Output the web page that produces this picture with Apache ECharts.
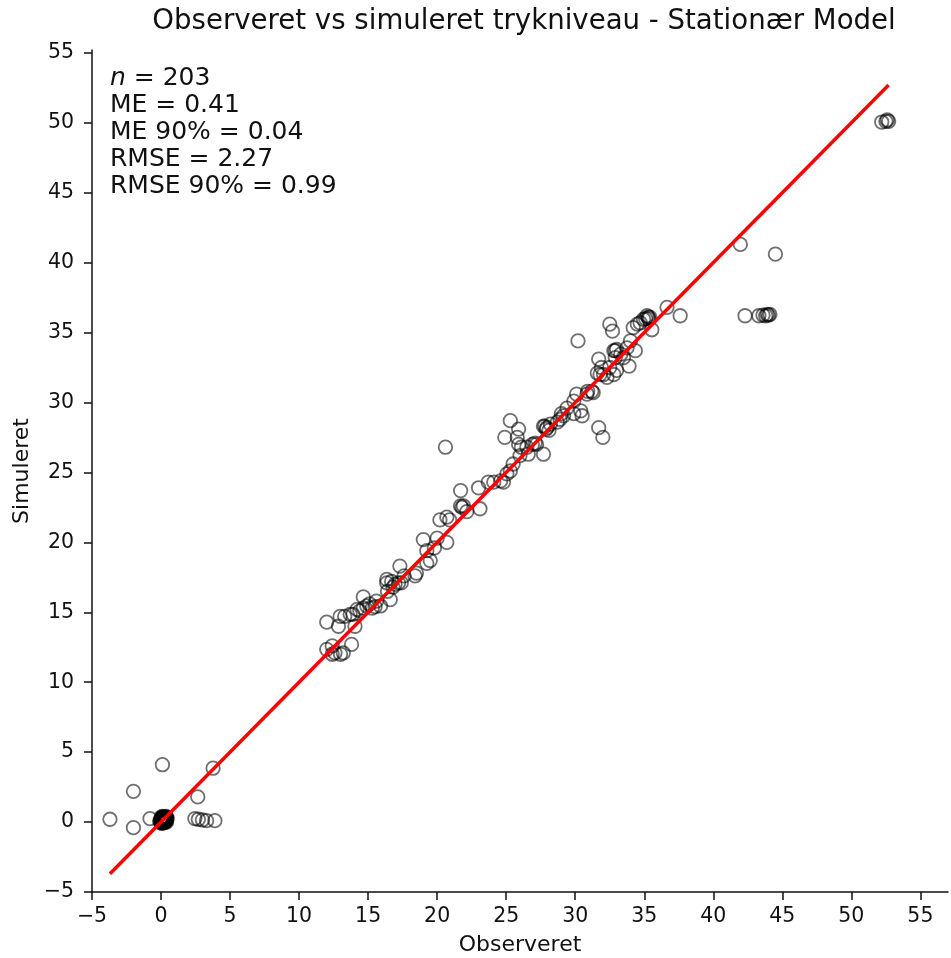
<!DOCTYPE html>
<html>
<head>
<meta charset="utf-8">
<script src="https://cdn.jsdelivr.net/npm/echarts@6/dist/echarts.min.js"></script>
<style>html,body{margin:0;padding:0;background:#fff}#c{width:951px;height:958px}</style>
</head>
<body>
<div id="c"></div>
<script>
// ---- data (observed, simulated) ----
const obsLow = [-3.7,-2.0,-2.0,-0.8,0.1,2.66,3.77,2.45,2.7,3.0,3.3,3.9];
const simLow = [0.2,2.2,-0.4,0.25,4.1,1.8,3.85,0.25,0.2,0.15,0.1,0.1];

const obsZero = [0.0,0.1,0.2,0.3,0.4,0.05,0.15,0.25,0.35,0.0,0.1,0.2,0.3,0.4,0.45,-0.1,0.0,0.1,0.2,0.3,0.35,0.15,0.25,0.05,-0.05,0.2,0.3,0.1,0.4,0.0,0.25,0.15,0.35,0.05,0.2,0.3,0.1,0.0,0.4,0.25,0.15,0.3,0.2,0.1,0.05,0.35,0.2];
const simZero = [0.0,0.05,0.1,0.15,0.2,0.1,0.0,0.25,0.3,0.2,0.3,0.35,0.05,0.1,0.3,0.05,-0.05,0.15,0.2,0.25,0.4,0.35,0.0,0.3,0.1,-0.05,0.35,0.4,0.0,0.35,0.15,0.2,0.1,-0.1,0.3,0.2,0.25,0.1,0.35,0.05,0.1,0.0,0.15,-0.05,0.2,0.25,0.05];

const obsMid = [20.6,21.7,23.0,21.7,21.9,21.8,23.1,22.15,23.7,24.1,24.6,24.8,25.05,25.3,25.5,26.0,20.2,20.7,20.9,19.0,20.0,20.7,19.25,19.5,19.25,17.3,18.4,18.5,16.35,16.7,16.95,17.2,17.4,16.8,16.35,16.6,14.65,15.6,15.9,14.2,14.4,14.65,14.9,15.1,13.9,13.7,13.3,12.97,12.0,12.85,14.05,13.8,12.0,12.4,12.6,13.0,13.2,12.4,15.3,15.5,16.4,17.6,19.8];
const simMid = [26.8,23.7,23.9,22.6,22.6,22.5,22.4,22.2,24.3,24.3,24.4,24.3,24.9,25.1,25.6,26.2,21.6,21.8,21.6,20.2,20.3,20.0,19.4,18.7,18.5,18.3,17.6,17.8,17.35,17.2,17.0,17.1,17.1,16.8,17.1,15.9,16.1,15.8,15.45,15.2,15.1,15.3,15.45,15.6,14.85,14.85,14.7,14.7,14.3,14.0,14.0,12.7,12.35,12.6,12.1,12.0,12.1,12.0,15.3,15.4,16.5,17.6,19.6];

const obsUpper = [25.3,24.9,25.9,25.8,25.9,26.1,26.6,26.5,26.9,27.1,27.2,27.7,27.7,27.95,28.2,28.1,28.7,28.9,29.15,29.4,29.9,30.4,30.5,29.9,30.1,30.85,31.2,31.3,30.2,31.7,32.0,31.7,31.9,31.6,32.05,32.3,32.5,32.7,32.8,33.0,33.3,32.9,32.5,32.8,33.0,33.5,33.75,34.0,33.9,34.35,34.2,34.5,34.7,34.95,35.2,35.3,35.4,35.55,36.65,37.6,27.8,27.9,31.8,32.9,35.1,35.3,29.0,30.9];
const simUpper = [28.7,27.5,28.1,27.5,27.0,26.8,26.3,26.8,27.0,27.1,27.0,26.3,28.3,28.2,28.45,28.0,28.6,28.8,29.05,29.6,29.2,29.4,29.05,30.1,30.6,30.6,30.8,30.7,34.4,28.2,27.5,33.1,32.5,32.1,32.0,31.8,35.6,35.1,33.7,33.8,33.45,33.2,32.5,32.0,32.3,33.2,33.9,34.4,32.6,33.7,35.35,35.6,35.7,35.95,36.2,36.1,36.1,35.2,36.8,36.2,28.3,28.1,32.0,33.7,36.0,36.0,29.2,30.8];

const obsHigh = [41.96,42.3,43.3,43.6,43.8,43.9,44.0,44.1,44.5,52.2,52.5,52.6,52.7];
const simHigh = [41.3,36.2,36.2,36.25,36.2,36.3,36.25,36.3,40.6,50.05,50.1,50.2,50.1];

const lineX = [-3.7, 52.7];
const lineY = [-3.7, 52.7];

const xTicks = [-5,0,5,10,15,20,25,30,35,40,45,50,55];
const yTicks = [-5,0,5,10,15,20,25,30,35,40,45,50,55];

const statsLines = ['{i|n} = 203','ME = 0.41','ME 90% = 0.04','RMSE = 2.27','RMSE 90% = 0.99'];

const observed = [].concat(obsLow, obsZero, obsMid, obsUpper, obsHigh);
const simulated = [].concat(simLow, simZero, simMid, simUpper, simHigh);
const points = observed.map((v, i) => [v, simulated[i]]);
const linePts = lineX.map((v, i) => [v, lineY[i]]);

const FONT = 'DejaVu Sans';
const AX = '#111';
const fmt = v => String(v).replace('-', '\u2212');

const chart = echarts.init(document.getElementById('c'), null, {renderer: 'canvas'});
chart.setOption({
  animation: false,
  backgroundColor: '#fff',
  textStyle: {fontFamily: FONT},
  title: [
    {
      text: 'Observeret vs simuleret trykniveau - Stationær Model',
      left: 524, top: 8, textAlign: 'center', padding: 0,
      textStyle: {fontFamily: FONT, fontSize: 27.6, fontWeight: 'normal', color: '#111'}
    },
    {
      text: statsLines.join('\n'),
      left: 110, top: 65, padding: 0,
      textStyle: {
        fontFamily: FONT, fontSize: 25, fontWeight: 'normal', color: '#111', lineHeight: 26.9,
        rich: {i: {fontFamily: FONT, fontSize: 25, fontStyle: 'italic', color: '#111', lineHeight: 26.9}}
      }
    }
  ],
  grid: {left: 92, right: 3, top: 50, bottom: 66, containLabel: false, outerBoundsMode: 'none'},
  xAxis: {
    type: 'value', min: -5, max: 57, interval: 5,
    name: 'Observeret', nameLocation: 'middle', nameGap: 42,
    nameTextStyle: {fontFamily: FONT, fontSize: 22, color: '#111'},
    axisLine: {show: true, onZero: false, lineStyle: {color: AX, width: 1.5}},
    axisTick: {show: true, length: 8, lineStyle: {color: AX, width: 1.5}, customValues: xTicks},
    axisLabel: {customValues: xTicks, fontFamily: FONT, fontSize: 20.5, color: '#111', margin: 14, formatter: fmt},
    splitLine: {show: false}
  },
  yAxis: {
    type: 'value', min: -5, max: 55.2, interval: 5,
    name: 'Simuleret', nameLocation: 'middle', nameGap: 56,
    nameTextStyle: {fontFamily: FONT, fontSize: 22, color: '#111'},
    axisLine: {show: true, onZero: false, lineStyle: {color: AX, width: 1.5}},
    axisTick: {show: true, length: 8, lineStyle: {color: AX, width: 1.5}, customValues: yTicks},
    axisLabel: {customValues: yTicks, fontFamily: FONT, fontSize: 20.5, color: '#111', margin: 18, formatter: fmt},
    splitLine: {show: false}
  },
  series: [
    {
      type: 'scatter', data: points, symbol: 'circle', symbolSize: 13.5, z: 2,
      itemStyle: {color: 'rgba(0,0,0,0)', borderColor: 'rgba(0,0,0,0.7)', borderWidth: 1.8},
      emphasis: {disabled: true}
    },
    {
      type: 'line', data: linePts, symbol: 'none', z: 3,
      lineStyle: {color: '#ff0000', width: 3.5}
    }
  ]
});
</script>
</body>
</html>
